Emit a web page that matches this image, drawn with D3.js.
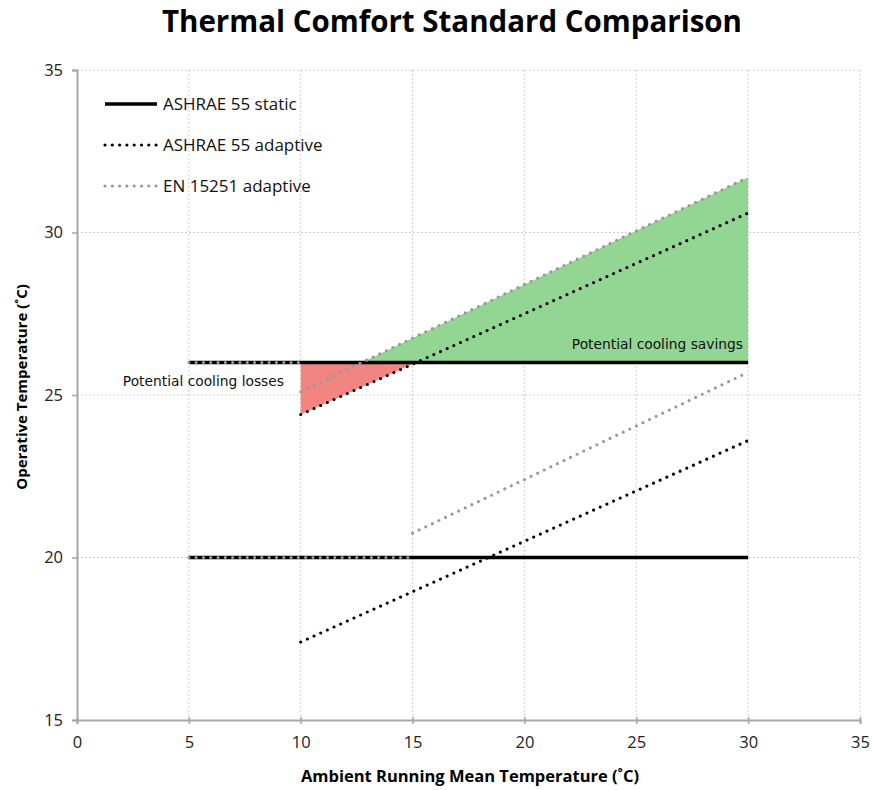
<!DOCTYPE html>
<html><head><meta charset="utf-8">
<script src="https://cdn.jsdelivr.net/npm/d3@7"></script>
<style>body{margin:0;background:#fff;} svg{display:block;}</style>
</head><body>
<svg id="chart" width="873" height="790"></svg>
<script>
// ---- data ----
const xTicks = [0, 5, 10, 15, 20, 25, 30, 35];
const yTicks = [15, 20, 25, 30, 35];
// ASHRAE 55 static limits
const staticX = [5, 30];
const staticUpper = [26, 26];
const staticLower = [20, 20];
// ASHRAE 55 adaptive
const ashraeX = [10, 30];
const ashraeUpper = [24.4, 30.6];
const ashraeLower = [17.4, 23.6];
// EN 15251 adaptive
const enUpperX = [10, 30];
const enUpper = [25.1, 31.7];
const enLowerX = [15, 30];
const enLower = [20.75, 25.7];
const enFlatUpperX = [5, 10];
const enFlatUpper = [26, 26];
const enFlatLowerX = [5, 15];
const enFlatLower = [20, 20];
// shaded regions
const savingsX = [12.73, 30, 30];
const savingsY = [26, 31.7, 26];
const lossesX = [10, 15.16, 10];
const lossesY = [26, 26, 24.4];
const legendLabels = ["ASHRAE 55 static", "ASHRAE 55 adaptive", "EN 15251 adaptive"];

const svg = d3.select("#chart");
const x = d3.scaleLinear().domain([0, 35]).range([77, 860]);
const y = d3.scaleLinear().domain([15, 35]).range([720, 70]);
const font = "'Open Sans', sans-serif";

// title
svg.append("text").attr("x", 452).attr("y", 32).attr("text-anchor", "middle")
  .attr("font-family", font).attr("font-weight", "bold").attr("font-size", 29.5)
  .attr("fill", "#000").text("Thermal Comfort Standard Comparison");

// grid
svg.append("g").selectAll("line").data(xTicks.slice(1)).join("line")
  .attr("x1", d => x(d)).attr("x2", d => x(d)).attr("y1", y(35)).attr("y2", y(15))
  .attr("stroke", "#cfcfcf").attr("stroke-width", 1).attr("stroke-dasharray", "2,2");
svg.append("g").selectAll("line").data(yTicks.slice(1)).join("line")
  .attr("x1", x(0)).attr("x2", x(35)).attr("y1", d => y(d)).attr("y2", d => y(d))
  .attr("stroke", "#cfcfcf").attr("stroke-width", 1).attr("stroke-dasharray", "2,2");

// axes
const xAxis = svg.append("g").attr("transform", `translate(0,${y(15)})`)
  .call(d3.axisBottom(x).tickValues(xTicks).tickSize(4).tickPadding(12));
const yAxis = svg.append("g").attr("transform", `translate(${x(0)},0)`)
  .call(d3.axisLeft(y).tickValues(yTicks).tickSize(5).tickPadding(9));
[xAxis, yAxis].forEach(g => {
  g.select(".domain").attr("stroke", "#a6a6a6").attr("stroke-width", 2);
  g.selectAll(".tick line").attr("stroke", "#a6a6a6").attr("stroke-width", 1.5);
  g.selectAll(".tick text").attr("font-family", font).attr("font-size", 16.5).attr("fill", "#222");
});
xAxis.selectAll(".tick line").attr("y1", -3);

// axis labels
svg.append("text").attr("x", 470).attr("y", 782).attr("text-anchor", "middle")
  .attr("font-family", font).attr("font-weight", "bold").attr("font-size", 16.5)
  .text("Ambient Running Mean Temperature (˚C)");
svg.append("text").attr("transform", `translate(27,387) rotate(-90)`).attr("text-anchor", "middle")
  .attr("font-family", font).attr("font-weight", "bold").attr("font-size", 15)
  .text("Operative Temperature (˚C)");

// fills
const poly = (xs, ys) => xs.map((v, i) => [x(v), y(ys[i])]);
svg.append("path").attr("d", d3.line()(poly(savingsX, savingsY)) + "Z").attr("fill", "#93d693");
svg.append("path").attr("d", d3.line()(poly(lossesX, lossesY)) + "Z").attr("fill", "#f28582");

const line = d3.line();
function draw(xs, ys, style) {
  const p = svg.append("path").attr("d", line(poly(xs, ys))).attr("fill", "none");
  if (style === "static") p.attr("stroke", "#000").attr("stroke-width", 3.5);
  if (style === "ashrae") p.attr("stroke", "#000").attr("stroke-width", 3.2).attr("stroke-linecap", "round").attr("stroke-dasharray", "0,7.3");
  if (style === "en") p.attr("stroke", "#999").attr("stroke-width", 3.2).attr("stroke-linecap", "round").attr("stroke-dasharray", "0,7.3");
  return p;
}
draw(staticX, staticUpper, "static");
draw(staticX, staticLower, "static");
draw(enFlatUpperX, enFlatUpper, "en");
draw(enFlatLowerX, enFlatLower, "en");
draw(enUpperX, enUpper, "en");
draw(enLowerX, enLower, "en");
draw(ashraeX, ashraeUpper, "ashrae");
draw(ashraeX, ashraeLower, "ashrae");

// annotations
svg.append("text").attr("x", 743).attr("y", 349).attr("text-anchor", "end")
  .attr("font-family", "'DejaVu Sans', sans-serif").attr("font-size", 13.8).attr("fill", "#111")
  .text("Potential cooling savings");
svg.append("text").attr("x", 284).attr("y", 386).attr("text-anchor", "end")
  .attr("font-family", "'DejaVu Sans', sans-serif").attr("font-size", 13.8).attr("fill", "#111")
  .text("Potential cooling losses");

// legend
const styles = ["static", "ashrae", "en"];
legendLabels.forEach((lab, i) => {
  const ly = 104 + i * 41;
  const p = svg.append("path").attr("d", `M105,${ly}H157`).attr("fill", "none");
  if (styles[i] === "static") p.attr("stroke", "#000").attr("stroke-width", 3.5);
  else p.attr("stroke", styles[i] === "ashrae" ? "#000" : "#999").attr("stroke-width", 3.2)
    .attr("stroke-linecap", "round").attr("stroke-dasharray", "0,7.3");
  svg.append("text").attr("x", 163).attr("y", ly + 6).attr("font-family", font)
    .attr("font-size", 17).attr("fill", "#111").text(lab);
});
</script>
</body></html>
